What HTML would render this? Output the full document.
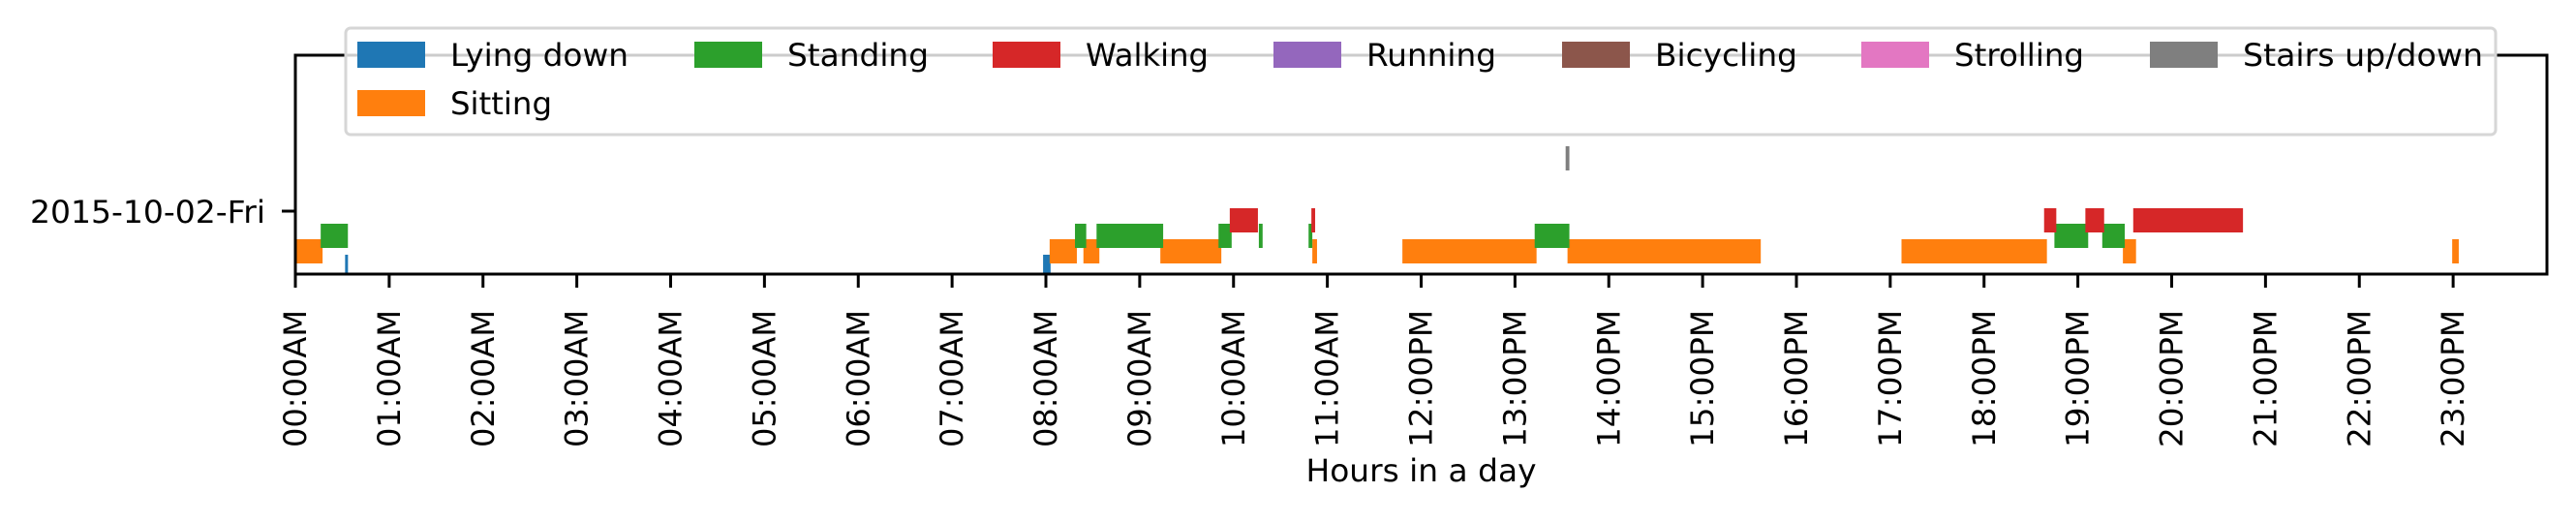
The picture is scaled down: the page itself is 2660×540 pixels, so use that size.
<!DOCTYPE html>
<html><head><meta charset="utf-8"><style>
html,body{margin:0;padding:0;background:#fff;}
svg{display:block;font-family:"DejaVu Sans","Liberation Sans",sans-serif;}
</style></head><body>
<svg id="chart" width="2660" height="540" viewBox="0 0 2660 540" xmlns="http://www.w3.org/2000/svg">
<g id="bars"></g>
<g id="axes"></g>
<g id="legend"></g>
</svg>
<script>
const activities = ["Lying down","Sitting","Standing","Walking","Running","Bicycling","Strolling","Stairs up/down"];
const colors = ["#1f77b4","#ff7f0e","#2ca02c","#d62728","#9467bd","#8c564b","#e377c2","#7f7f7f"];
const segActivity = [0,0, 1,1,1,1,1,1,1,1,1,1, 2,2,2,2,2,2,2,2,2, 3,3,3,3,3, 7];
const segStart = [0.53,7.97, 0.0,8.04,8.40,9.22,10.84,11.80,13.56,17.12,19.48,22.99, 0.27,8.31,8.54,9.84,10.27,10.80,13.21,18.75,19.26, 9.96,10.83,18.64,19.08,19.59, 13.54];
const segEnd = [0.56,8.05, 0.29,8.33,8.57,9.87,10.89,13.23,15.62,18.67,19.62,23.06, 0.56,8.43,9.25,9.98,10.31,10.84,13.58,19.11,19.50, 10.26,10.87,18.77,19.28,20.76, 13.58];
const xTickHours = [0,1,2,3,4,5,6,7,8,9,10,11,12,13,14,15,16,17,18,19,20,21,22,23];
const xTickLabels = ["00:00AM","01:00AM","02:00AM","03:00AM","04:00AM","05:00AM","06:00AM","07:00AM","08:00AM","09:00AM","10:00AM","11:00AM","12:00PM","13:00PM","14:00PM","15:00PM","16:00PM","17:00PM","18:00PM","19:00PM","20:00PM","21:00PM","22:00PM","23:00PM"];
const yTickLabels = ["2015-10-02-Fri"];

const NS="http://www.w3.org/2000/svg";
const L=305,R=2630,T=57,B=283;
const xMin=0,xMax=24;
function xs(h){return L+(h-xMin)/(xMax-xMin)*(R-L);}
function ys(i){return 275.5-16*i;}
const BH=25;
function mk(tag,attrs,parent){const e=document.createElementNS(NS,tag);for(const k in attrs)e.setAttribute(k,attrs[k]);parent.appendChild(e);return e;}

const bars=document.getElementById('bars');
const clip=mk('clipPath',{id:'plotclip'},bars);
mk('rect',{x:L,y:T,width:R-L,height:B-T},clip);
bars.setAttribute('clip-path','url(#plotclip)');
for(let i=0;i<segStart.length;i++){
  const a=segActivity[i];
  const r=mk('rect',{x:xs(segStart[i]),y:ys(a)-BH/2,width:Math.max(xs(segEnd[i])-xs(segStart[i]),3),height:BH,fill:colors[a]},bars);
  
  
}

const axes=document.getElementById('axes');
const frame=mk('rect',{x:L,y:T,width:R-L,height:B-T,fill:'none',stroke:'#000','stroke-width':3},axes);


for(let i=0;i<xTickHours.length;i++){
  const x=xs(xTickHours[i]);
  const t=mk('line',{x1:x,y1:B,x2:x,y2:B+14,stroke:'#000','stroke-width':3},axes);
  
  
  const tx=mk('text',{x:x+11,y:320,'font-size':32,'text-anchor':'end',transform:'rotate(-90 '+(x+11)+' 320)',fill:'#000',textLength:142,lengthAdjust:'spacingAndGlyphs'},axes);
  tx.textContent=xTickLabels[i];
  
  
}
const yt=mk('line',{x1:L,y1:218,x2:L-14,y2:218,stroke:'#000','stroke-width':3},axes);


const yl=mk('text',{x:274,y:230,'font-size':32,'text-anchor':'end',fill:'#000',textLength:243,lengthAdjust:'spacingAndGlyphs'},axes);
yl.textContent=yTickLabels[0];


const xt=mk('text',{x:(L+R)/2,y:497,'font-size':32,'text-anchor':'middle',fill:'#000',textLength:238,lengthAdjust:'spacingAndGlyphs'},axes);
xt.textContent='Hours in a day';



const leg=document.getElementById('legend');
const lb=mk('rect',{x:357,y:29,width:2220,height:110,rx:5,fill:'#fff','fill-opacity':0.8,stroke:'#d6d6d6','stroke-width':3},leg);


const colX=[369,717,1025,1315,1613,1922,2220];
// label widths in activity order: Lying, Sitting, Standing, Walking, Running, Bicycling, Strolling, Stairs
const txtW=[184,105,146,127,134,147,134,248];
const order=[[0,0,0],[2,1,0],[3,2,0],[4,3,0],[5,4,0],[6,5,0],[7,6,0],[1,0,1]];
for(const [a,c,row] of order){
  const g=mk('g',{},leg);
  
  
  const py=row?93:43;
  mk('rect',{x:colX[c],y:py,width:70,height:27,fill:colors[a]},g);
  const t=mk('text',{x:colX[c]+96,y:row?118:68,'font-size':32,fill:'#000',textLength:txtW[a],lengthAdjust:'spacingAndGlyphs'},g);
  t.textContent=activities[a];
}
</script>
</body></html>
